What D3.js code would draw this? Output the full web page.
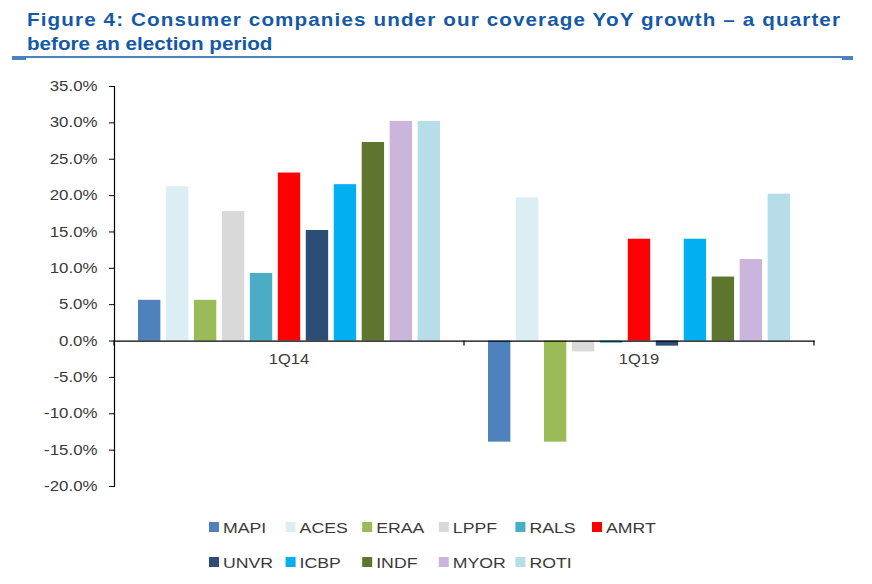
<!DOCTYPE html>
<html><head><meta charset="utf-8">
<script src="https://cdn.jsdelivr.net/npm/d3@7"></script>
<style>body{margin:0;background:#fff;} svg{display:block;}</style>
</head><body><svg id="c" width="872" height="584"></svg>
<script>
const periods = ["1Q14", "1Q19"];
const companies = ["MAPI","ACES","ERAA","LPPF","RALS","AMRT","UNVR","ICBP","INDF","MYOR","ROTI"];
const values1Q14 = [5.6, 21.2, 5.6, 17.8, 9.3, 23.1, 15.2, 21.5, 27.3, 30.2, 30.2];
const values1Q19 = [-13.9, 19.7, -13.9, -1.5, -0.3, 14.0, -0.7, 14.0, 8.8, 11.2, 20.2];
const colors = ["#4F81BD","#DAEEF3","#9BBB59","#D9D9D9","#4BACC6","#FF0000","#2C4D75","#00B0F0","#5E7530","#CCB5DC","#B7DEE8"];
const yTicks = [35,30,25,20,15,10,5,0,-5,-10,-15,-20];
const title1 = "Figure 4: Consumer companies under our coverage YoY growth \u2013 a quarter";
const title2 = "before an election period";

const svg = d3.select("#c");
const font = "Arial, 'Liberation Sans', sans-serif";
const SX = 1.18; // horizontal stretch of the reference text
const seriesByPeriod = [values1Q14, values1Q19];
const place = (x, y) => `translate(${x},${y}) scale(${SX},1)`;

// Title
svg.append("text").attr("transform", place(27, 26)).attr("font-family", font).attr("font-weight", "bold")
  .attr("font-size", 17.5).attr("fill", "#1459A8").attr("textLength", 813 / SX).attr("lengthAdjust", "spacing").text(title1);
svg.append("text").attr("transform", place(27, 50)).attr("font-family", font).attr("font-weight", "bold")
  .attr("font-size", 17.5).attr("fill", "#1459A8").text(title2);
svg.append("rect").attr("x", 12).attr("y", 56).attr("width", 841).attr("height", 2).attr("fill", "#4F81BD");
svg.append("rect").attr("x", 12).attr("y", 56).attr("width", 14).attr("height", 4).attr("fill", "#4F81BD");
svg.append("rect").attr("x", 842).attr("y", 56).attr("width", 11).attr("height", 4).attr("fill", "#4F81BD");

// Scales
const y = d3.scaleLinear().domain([-20, 35]).range([486, 86]);
const x0 = d3.scaleBand().domain(periods).range([114, 814]).paddingInner(0).paddingOuter(0);
const x1 = d3.scaleBand().domain(companies).range([24, 326]).paddingInner(0.2).paddingOuter(0);

// Y axis
const yAxis = d3.axisLeft(y).tickValues(yTicks).tickSize(5).tickFormat(d => d.toFixed(1) + "%");
const gy = svg.append("g").attr("transform", "translate(114,0)").call(yAxis);
gy.select(".domain").attr("stroke", "#000").attr("stroke-width", 1.2).attr("d", "M-5,86.5H0.5V486.5H-5");
gy.selectAll(".tick line").attr("stroke", "#000");
gy.selectAll(".tick text").attr("font-family", font).attr("font-size", 14.3).attr("fill", "#3a3a3a")
  .attr("x", 0).attr("transform", `translate(-16.5,0) scale(${SX},1)`);

// Bars
const groups = svg.append("g").selectAll("g").data(periods).join("g")
  .attr("transform", d => `translate(${x0(d)},0)`);
groups.selectAll("rect").data((p, i) => companies.map((c, j) => ({c, v: seriesByPeriod[i][j], col: colors[j]})))
  .join("rect")
  .attr("x", d => x1(d.c)).attr("width", x1.bandwidth())
  .attr("y", d => y(Math.max(0, d.v))).attr("height", d => Math.abs(y(d.v) - y(0)))
  .attr("fill", d => d.col);

// X axis at zero
const xAxis = d3.axisBottom(x0).tickSize(0).tickFormat("");
const gx = svg.append("g").attr("transform", `translate(0,${y(0)})`).call(xAxis);
gx.select(".domain").attr("stroke", "#000").attr("stroke-width", 1.2);
const tickPos = [114, 464, 814];
svg.append("g").selectAll("line").data(tickPos).join("line")
  .attr("x1", d => d).attr("x2", d => d).attr("y1", y(0)).attr("y2", y(0) + 5)
  .attr("stroke", "#000").attr("stroke-width", 1.2);
svg.append("g").selectAll("text").data(periods).join("text")
  .attr("transform", d => place(x0(d) + x0.bandwidth() / 2, y(0) + 23.5))
  .attr("text-anchor", "middle").attr("font-family", font).attr("font-size", 14).attr("fill", "#3a3a3a")
  .text(d => d);

// Legend
const legend = svg.append("g");
companies.forEach((c, i) => {
  const row = Math.floor(i / 6), col = i % 6;
  const lx = 209 + col * 76.6, ly = 527 + row * 35;
  legend.append("rect").attr("x", lx).attr("y", ly - 5).attr("width", 10).attr("height", 10).attr("fill", colors[i]);
  legend.append("text").attr("transform", place(lx + 14, ly + 5.5)).attr("font-family", font).attr("font-size", 15)
    .attr("fill", "#3a3a3a").text(c);
});
</script></body></html>
